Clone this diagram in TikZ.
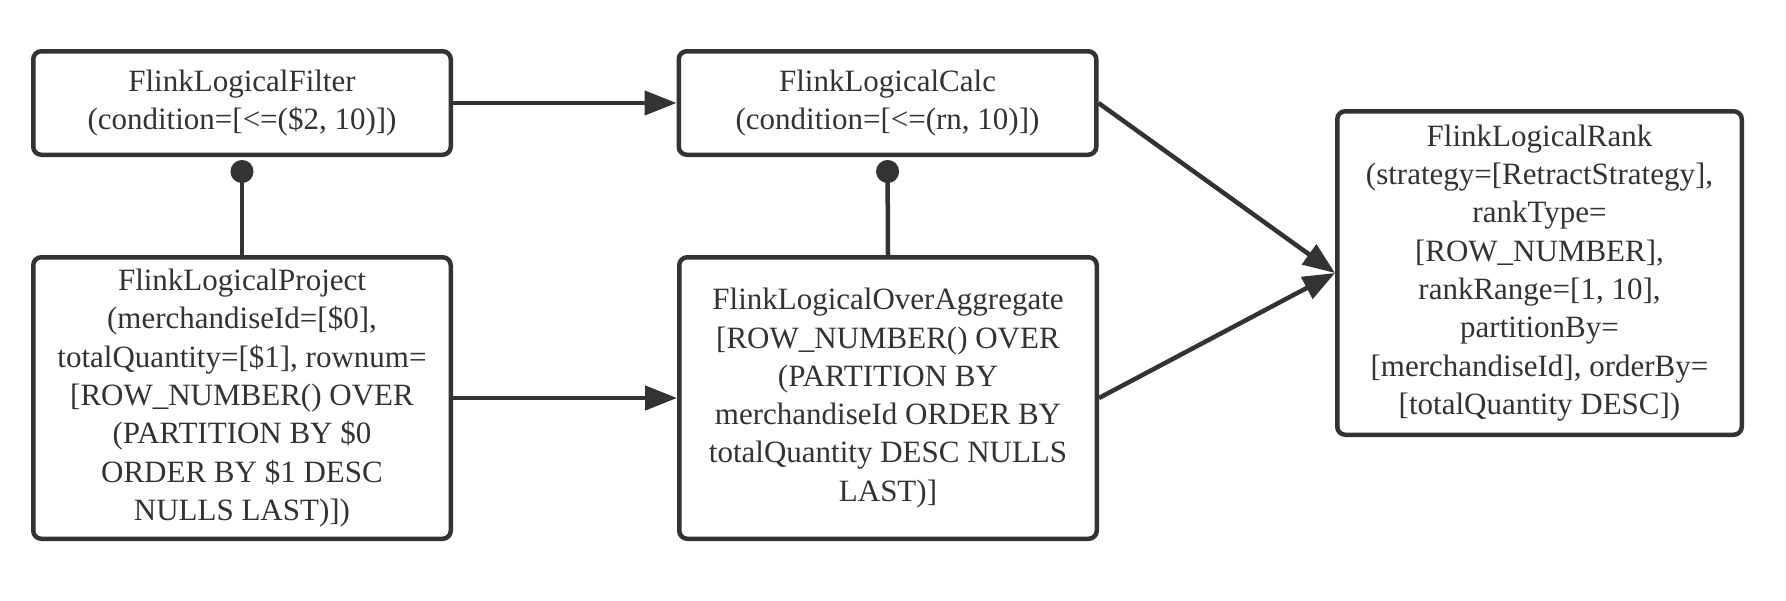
\documentclass[tikz,border=0pt]{standalone}
\usepackage{fontspec}
\setmainfont{Liberation Serif}
\usetikzlibrary{arrows.meta}
\definecolor{ink}{HTML}{333333}
\begin{document}
\begin{tikzpicture}[x=1pt,y=-1pt,
  box/.style={draw=ink, line width=4.5pt, rounded corners=8pt, fill=white, align=center,
    text=ink, font=\fontsize{31}{38.3}\selectfont, inner sep=0pt, minimum width=417.5pt},
  flow/.style={draw=ink, line width=4.5pt, -{Triangle[length=32pt,width=24pt]}},
  link/.style={draw=ink, line width=4.5pt, -{Circle[length=23pt]}, shorten >=3pt}]
\fill[white] (0,0) rectangle (1786,600);
\useasboundingbox (0,0) rectangle (1786,600);

\node[box, minimum height=103.5pt] (filt) at (242,103)
  {FlinkLogicalFilter\\(condition=[<=(\$2, 10)])};
\node[box, minimum height=103.5pt] (calc) at (887.5,103)
  {FlinkLogicalCalc\\(condition=[<=(rn, 10)])};
\node[box, minimum height=281.5pt] (proj) at (242,398)
  {FlinkLogicalProject\\(merchandiseId=[\$0],\\totalQuantity=[\$1], rownum=\\{[}ROW\_NUMBER() OVER\\(PARTITION BY \$0\\ORDER BY \$1 DESC\\NULLS LAST)])};
\node[box, minimum height=281.5pt] (over) at (888,398)
  {FlinkLogicalOverAggregate\\{[}ROW\_NUMBER() OVER\\(PARTITION BY\\merchandiseId ORDER BY\\totalQuantity DESC NULLS\\LAST)]};
\node[box, minimum width=404.5pt, minimum height=323.5pt] (rank) at (1539.5,273)
  {FlinkLogicalRank\\(strategy=[RetractStrategy],\\rankType=\\{[}ROW\_NUMBER],\\rankRange=[1, 10],\\partitionBy=\\{[}merchandiseId], orderBy=\\{[}totalQuantity DESC])};

\draw[flow] (filt.east) -- (calc.west);
\draw[flow] (proj.east) -- (over.west);
\draw[flow] (calc.east) -- (rank.west);
\draw[flow] (over.east) -- (rank.west);
\draw[link] (proj.north) -- (filt.south);
\draw[link] (over.north) -- (calc.south);
\end{tikzpicture}
\end{document}
